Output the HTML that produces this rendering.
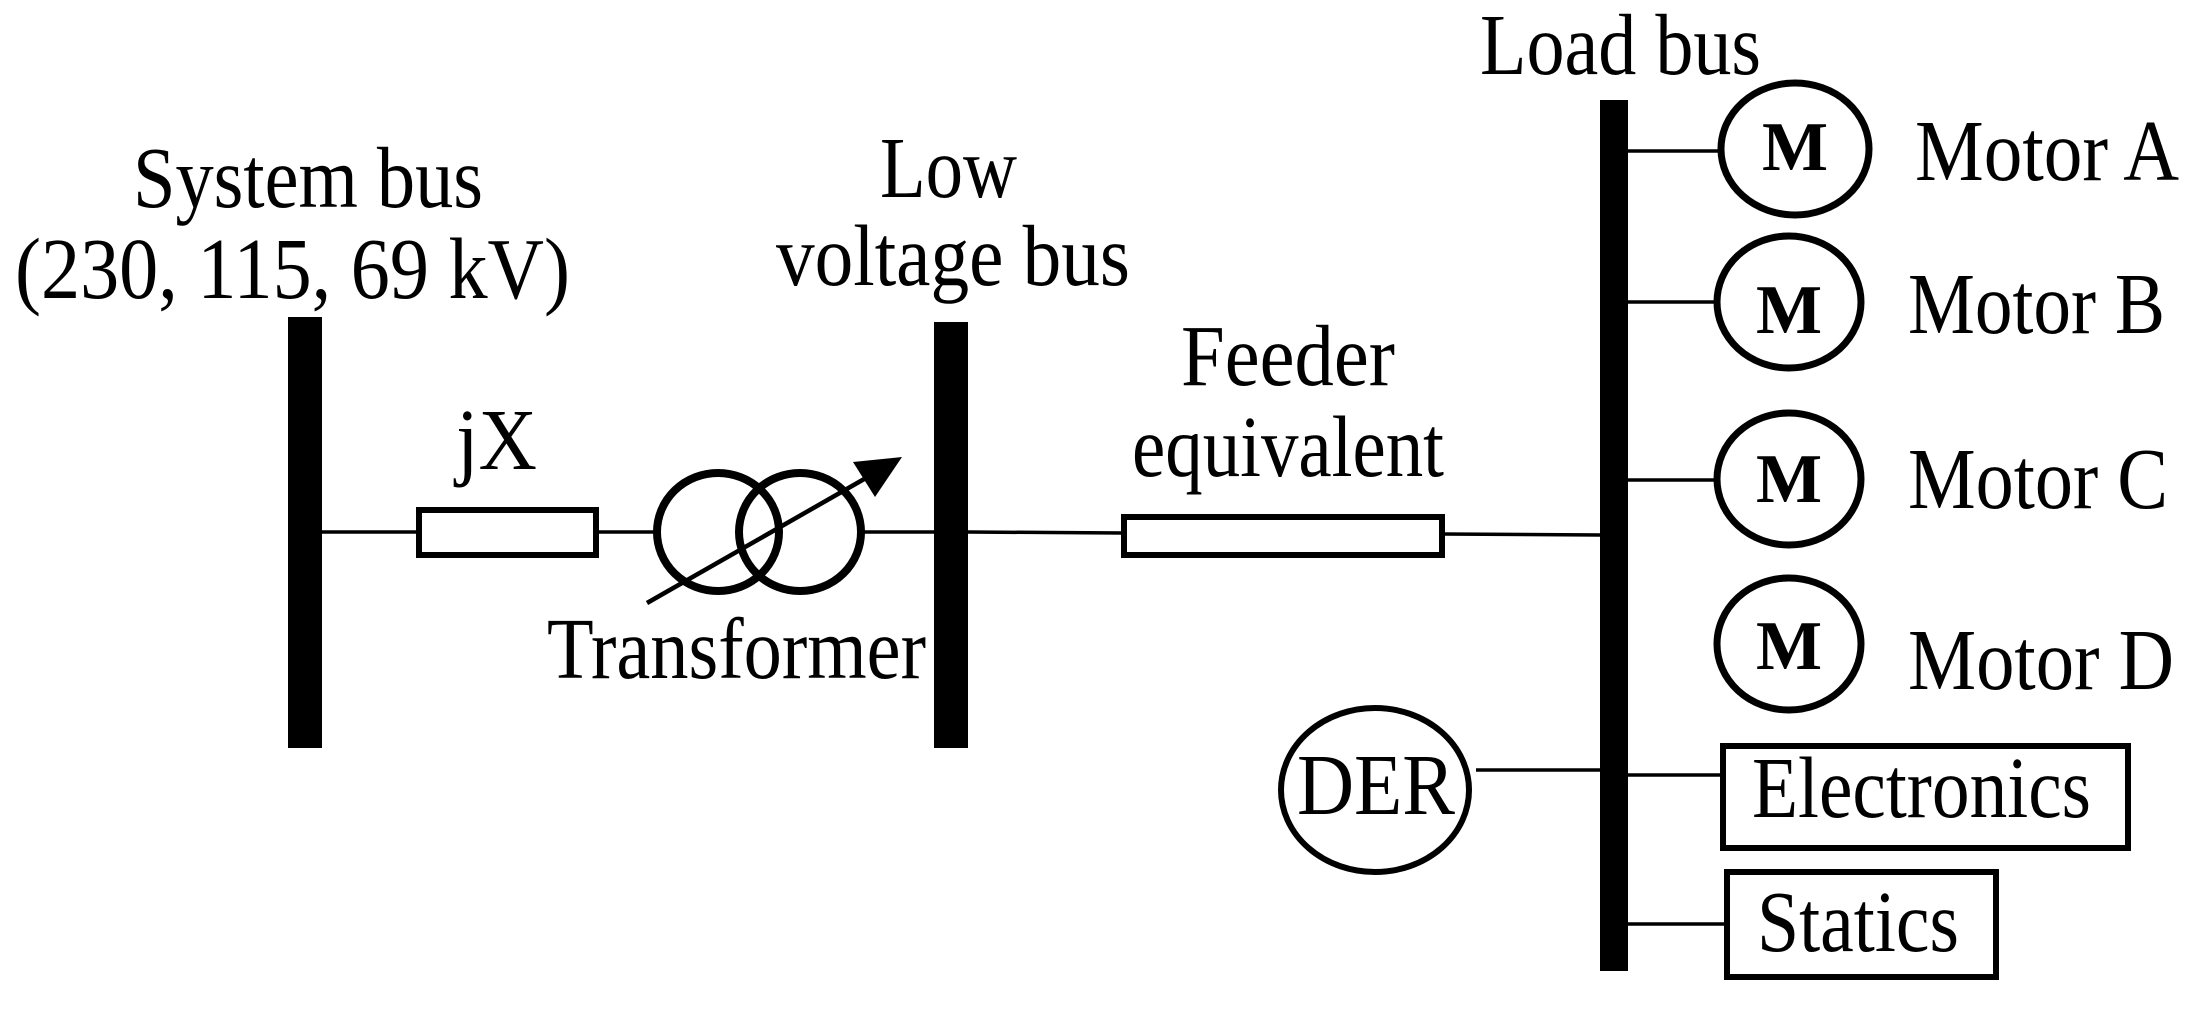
<!DOCTYPE html>
<html><head><meta charset="utf-8"><style>html,body{margin:0;padding:0;background:#fff}svg{display:block}</style></head>
<body>
<svg width="2202" height="1013" viewBox="0 0 2202 1013" xmlns="http://www.w3.org/2000/svg" font-family="Liberation Serif, serif" fill="#000">
<g stroke="#000" fill="none">
<rect x="288" y="317" width="34" height="431" fill="#000" stroke="none"/>
<rect x="934" y="322" width="34" height="426" fill="#000" stroke="none"/>
<rect x="1600" y="100" width="28" height="871" fill="#000" stroke="none"/>
<line x1="322" y1="532" x2="418" y2="532" stroke-width="3.5"/>
<rect x="419" y="510" width="177" height="45" stroke-width="6"/>
<line x1="596" y1="532" x2="655" y2="532" stroke-width="3.5"/>
<ellipse cx="718" cy="532" rx="61" ry="59" stroke-width="8"/>
<ellipse cx="800" cy="532" rx="61" ry="59" stroke-width="8"/>
<line x1="863" y1="532" x2="934" y2="532" stroke-width="3.5"/>
<line x1="647" y1="603" x2="880" y2="470" stroke-width="4.5"/>
<line x1="968" y1="532" x2="1123" y2="533" stroke-width="3.5"/>
<rect x="1124" y="517" width="318" height="38" stroke-width="6"/>
<line x1="1442" y1="534" x2="1600" y2="535" stroke-width="3.5"/>
<line x1="1628" y1="151" x2="1720" y2="151" stroke-width="3.5"/>
<ellipse cx="1795" cy="149" rx="74" ry="66" stroke-width="7"/>
<line x1="1628" y1="302" x2="1716" y2="302" stroke-width="3.5"/>
<ellipse cx="1789" cy="302" rx="72" ry="66" stroke-width="7"/>
<line x1="1628" y1="480" x2="1716" y2="480" stroke-width="3.5"/>
<ellipse cx="1789" cy="479" rx="72" ry="66" stroke-width="7"/>
<ellipse cx="1789" cy="644" rx="72" ry="66" stroke-width="7"/>
<ellipse cx="1375" cy="790" rx="94" ry="82" stroke-width="6"/>
<line x1="1476" y1="770" x2="1600" y2="770" stroke-width="3.5"/>
<line x1="1628" y1="775" x2="1722" y2="775" stroke-width="3.5"/>
<rect x="1723" y="746" width="405" height="102" stroke-width="6"/>
<line x1="1628" y1="924" x2="1726" y2="924" stroke-width="3.5"/>
<rect x="1727" y="872" width="269" height="105" stroke-width="6"/>
</g>
<polygon points="902,457 853,462 875,497"/>
<g font-size="78">
<text transform="translate(133,207) scale(1,1.12)" textLength="350" lengthAdjust="spacingAndGlyphs">System bus</text>
<text transform="translate(15,298) scale(1,1.12)" textLength="555" lengthAdjust="spacingAndGlyphs">(230, 115, 69 kV)</text>
<text transform="translate(456,469) scale(1,1.12)" textLength="81" lengthAdjust="spacingAndGlyphs">jX</text>
<text transform="translate(547,678) scale(1,1.12)" textLength="379" lengthAdjust="spacingAndGlyphs">Transformer</text>
<text transform="translate(880,197) scale(1,1.12)" textLength="137" lengthAdjust="spacingAndGlyphs">Low</text>
<text transform="translate(776,285) scale(1,1.12)" textLength="354" lengthAdjust="spacingAndGlyphs">voltage bus</text>
<text transform="translate(1181,385) scale(1,1.12)" textLength="214" lengthAdjust="spacingAndGlyphs">Feeder</text>
<text transform="translate(1132,476) scale(1,1.12)" textLength="312" lengthAdjust="spacingAndGlyphs">equivalent</text>
<text transform="translate(1480,74) scale(1,1.12)" textLength="281" lengthAdjust="spacingAndGlyphs">Load bus</text>
<text transform="translate(1915,180) scale(1,1.12)" textLength="264" lengthAdjust="spacingAndGlyphs">Motor A</text>
<text transform="translate(1908,333) scale(1,1.12)" textLength="257" lengthAdjust="spacingAndGlyphs">Motor B</text>
<text transform="translate(1908,508) scale(1,1.12)" textLength="260" lengthAdjust="spacingAndGlyphs">Motor C</text>
<text transform="translate(1908,689) scale(1,1.12)" textLength="266" lengthAdjust="spacingAndGlyphs">Motor D</text>
<text transform="translate(1297,814) scale(1,1.12)" textLength="158" lengthAdjust="spacingAndGlyphs">DER</text>
<text transform="translate(1752,817) scale(1,1.12)" textLength="339" lengthAdjust="spacingAndGlyphs">Electronics</text>
<text transform="translate(1757,951) scale(1,1.12)" textLength="202" lengthAdjust="spacingAndGlyphs">Statics</text>
</g>
<g font-size="70" font-weight="bold" text-anchor="middle">
<text x="1795" y="170">M</text>
<text x="1789" y="333">M</text>
<text x="1789" y="502">M</text>
<text x="1789" y="669">M</text>
</g>
</svg>
</body></html>
